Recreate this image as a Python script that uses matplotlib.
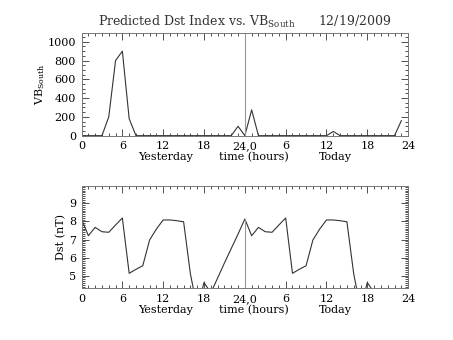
import numpy as np
import matplotlib.pyplot as plt
from matplotlib.ticker import MultipleLocator

# hours since start of yesterday
hours_vb = np.arange(0, 48)
vb_south = [0, 0, 0, 0, 200, 800, 900, 180, 0, 0, 0, 0,
            0, 0, 0, 0, 0, 0, 0, 0, 0, 0, 0, 100,
            0, 275, 0, 0, 0, 0, 0, 0, 0, 0, 0, 0,
            0, 45, 0, 0, 0, 0, 0, 0, 0, 0, 0, 160]

hours_dst = np.arange(0, 44)
dst = [8.13, 7.21, 7.67, 7.43, 7.40, 7.80, 8.19, 5.13, 5.35, 5.55, 6.97, 7.58,
       8.08, 8.08, 8.04, 7.98, 5.10, 3.20, 4.62, 4.05, 4.87, 5.70, 6.50, 7.30,
       8.13, 7.21, 7.67, 7.43, 7.40, 7.80, 8.19, 5.13, 5.35, 5.55, 6.97, 7.58,
       8.08, 8.08, 8.04, 7.98, 5.10, 3.20, 4.62, 4.05]

tick_pos = [0, 6, 12, 18, 24, 30, 36, 42, 48]
tick_lab = ['0', '6', '12', '18', '24,0', '6', '12', '18', '24']

plt.rcParams['font.family'] = 'DejaVu Serif'
plt.rcParams['font.size'] = 8
ink = '#333333'

fig = plt.figure(figsize=(4.53, 3.40), dpi=100)
ax1 = fig.add_axes([0.180, 0.601, 0.721, 0.301])
ax2 = fig.add_axes([0.180, 0.152, 0.721, 0.301])

# top panel: VB south
ax1.plot(hours_vb, vb_south, color=ink, lw=0.8)
ax1.axvline(24, color='#999999', lw=0.8)
ax1.set_ylim(0, 1090)
ax1.yaxis.set_major_locator(MultipleLocator(200))
ax1.yaxis.set_minor_locator(MultipleLocator(50))
ax1.set_ylabel('VB$_{\\mathregular{South}}$', labelpad=0)
ax1.set_title('Predicted Dst Index vs. VB$_{\\mathregular{South}}$      12/19/2009',
              fontsize=9, color=ink, pad=5)

# bottom panel: Dst
ax2.plot(hours_dst, dst, color=ink, lw=0.8)
ax2.plot([24, 24], [4.3, dst[24]], color='#999999', lw=0.8)
ax2.set_ylim(4.3, 9.96)
ax2.yaxis.set_major_locator(MultipleLocator(1))
ax2.yaxis.set_minor_locator(MultipleLocator(0.1))
ax2.set_ylabel('Dst (nT)', labelpad=2)

for ax in (ax1, ax2):
    ax.set_xlim(0, 48)
    ax.set_xticks(tick_pos)
    ax.set_xticklabels(tick_lab)
    ax.xaxis.set_minor_locator(MultipleLocator(1))
    ax.tick_params(which='both', direction='in', top=True, right=True,
                   colors=ink, labelcolor='black', width=0.6)
    ax.tick_params(which='major', length=5, pad=4)
    ax.tick_params(which='minor', length=2.5)
    for s in ax.spines.values():
        s.set_color('#777777')
        s.set_linewidth(0.7)
    ax.text(12.4 / 48, -0.21, 'Yesterday', transform=ax.transAxes, ha='center', va='center')
    ax.text(25.3 / 48, -0.21, 'time (hours)', transform=ax.transAxes, ha='center', va='center')
    ax.text(37.3 / 48, -0.21, 'Today', transform=ax.transAxes, ha='center', va='center')

plt.savefig('out.png', dpi=100)
